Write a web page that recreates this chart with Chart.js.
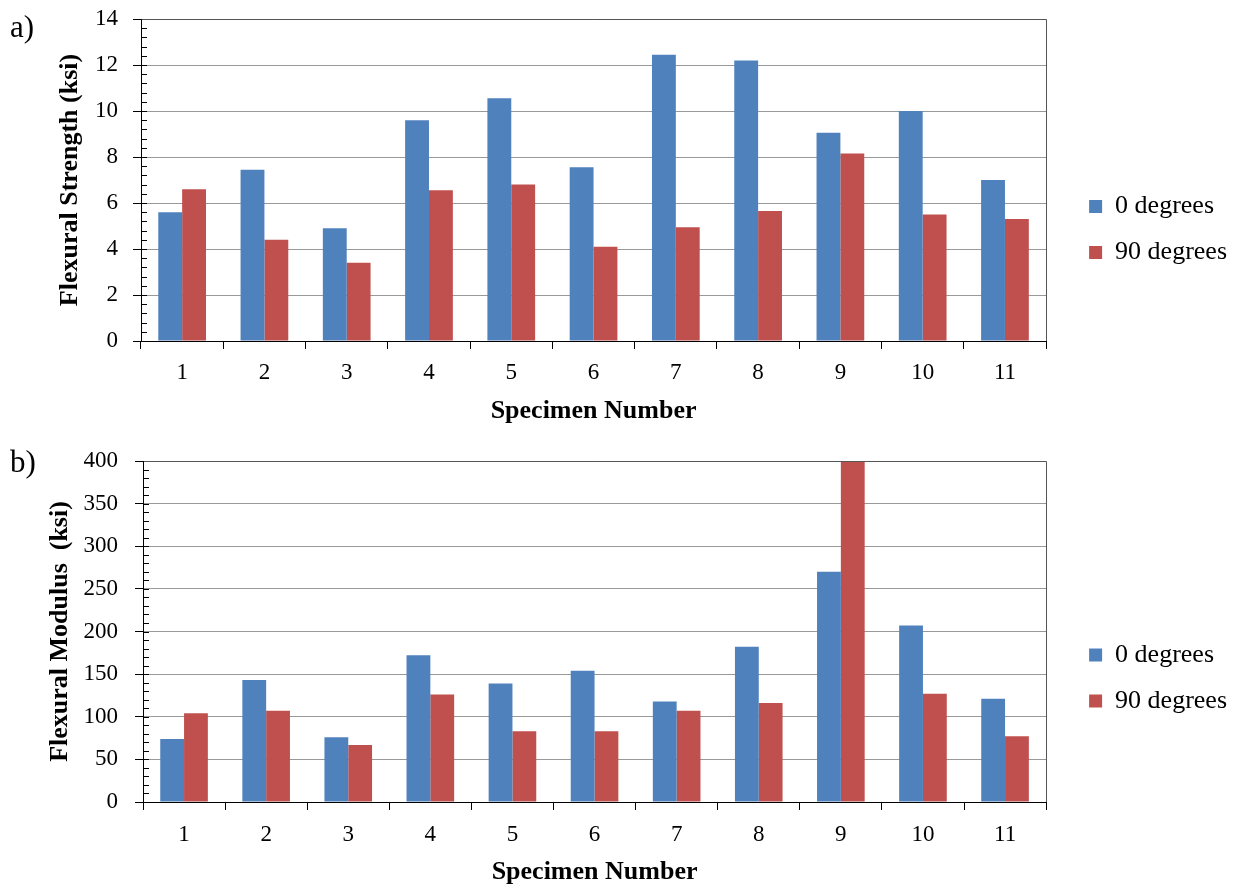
<!DOCTYPE html>
<html>
<head>
<meta charset="utf-8">
<script src="https://cdn.jsdelivr.net/npm/chart.js@4"></script>
<style>
  body { margin: 0; background: #fff; overflow: hidden; width: 1233px; height: 885px; position: relative; font-family: "Liberation Serif", serif; }
  .box { position: absolute; left: 0; width: 1233px; }
  .tag { position: absolute; left: 10px; font-size: 31px; line-height: 31px; color: #000; }
</style>
</head>
<body>
<div class="box" style="top:0;height:440px"><canvas id="grafico1"></canvas></div>
<div class="box" style="top:440px;height:455px"><canvas id="grafico2"></canvas></div>
<div class="tag" style="top:11px">a)</div>
<div class="tag" style="top:446px">b)</div>
<script>
const specimens = ['1', '2', '3', '4', '5', '6', '7', '8', '9', '10', '11'];
const seriesNames = ['0 degrees', '90 degrees'];

// a) flexural strength, ksi
const strength0 = [5.6, 7.45, 4.9, 9.6, 10.55, 7.55, 12.45, 12.2, 9.05, 10.0, 7.0];
const strength90 = [6.6, 4.4, 3.4, 6.55, 6.8, 4.1, 4.95, 5.65, 8.15, 5.5, 5.3];

// b) flexural modulus, ksi
const modulus0 = [74, 143, 76, 172, 139, 154, 118, 182, 270, 207, 121];
const modulus90 = [104, 107, 67, 126, 83, 83, 107, 116, 400, 127, 77];

const blue = '#4F81BD';
const red = '#C0504D';
const serif = '"Liberation Serif", "Times New Roman", serif';

// minor ticks + frame (top/right grey, left/bottom black)
const frame = {
  id: 'frame',
  afterDatasetsDraw(chart, args, opts) {
    const {ctx, chartArea: a, scales: {y}} = chart;
    ctx.save();
    ctx.lineWidth = 1;
    ctx.strokeStyle = '#000';
    ctx.beginPath();
    const n = Math.round((y.max - y.min) / opts.minor);
    for (let i = 1; i < n; i++) {
      const py = Math.round(y.getPixelForValue(y.min + i * opts.minor)) + 0.5;
      ctx.moveTo(a.left, py);
      ctx.lineTo(a.left + 6, py);
    }
    ctx.stroke();
    ctx.strokeStyle = '#555';
    ctx.beginPath();
    ctx.moveTo(a.left, a.top + 0.5);
    ctx.lineTo(Math.round(a.right) + 0.5, a.top + 0.5);
    ctx.lineTo(Math.round(a.right) + 0.5, a.bottom);
    ctx.stroke();
    ctx.strokeStyle = '#000';
    ctx.beginPath();
    ctx.moveTo(Math.round(a.left) + 0.5, a.top);
    ctx.lineTo(Math.round(a.left) + 0.5, Math.round(a.bottom) + 0.5);
    ctx.lineTo(a.right, Math.round(a.bottom) + 0.5);
    ctx.stroke();
    ctx.restore();
  }
};

// push the legend a bit away from the plot
const legendShift = {
  id: 'legendShift',
  afterLayout(chart, args, opts) {
    chart.legend.left += opts.dx;
    chart.legend.right += opts.dx;
  }
};

function barChart(canvas, data0, data90, yTitle, yMax, yStep, minor, s) {
  return new Chart(canvas, {
    type: 'bar',
    data: {
      labels: specimens,
      datasets: [
        { label: seriesNames[0], data: data0, backgroundColor: blue, borderWidth: 0 },
        { label: seriesNames[1], data: data90, backgroundColor: red, borderWidth: 0 }
      ]
    },
    options: {
      responsive: true,
      maintainAspectRatio: false,
      animation: false,
      categoryPercentage: 0.58,
      barPercentage: 1,
      layout: { padding: { left: s.padLeft, right: 19, top: s.padTop, bottom: 0 } },
      plugins: {
        legend: {
          position: 'right',
          labels: { font: { family: serif, size: 26 }, color: '#000', boxWidth: 13, boxHeight: 13, padding: 20 }
        },
        tooltip: { enabled: false },
        frame: { minor: minor },
        legendShift: { dx: 23 }
      },
      scales: {
        x: {
          grid: { drawOnChartArea: false, drawTicks: true, tickLength: 8, tickColor: '#000', offset: true },
          border: { color: '#000' },
          ticks: { font: { family: serif, size: 23 }, color: '#000', padding: s.xPad },
          title: {
            display: true, text: 'Specimen Number', color: '#000',
            font: { family: serif, size: 26, weight: 'bold', lineHeight: 1.2 },
            padding: { top: 0, bottom: s.xTitlePad }
          },
          afterFit(scale) { scale.height = s.xHeight; }
        },
        y: {
          min: 0,
          max: yMax,
          grid: { color: '#999', tickLength: 8, tickColor: '#000' },
          border: { color: '#000' },
          ticks: { stepSize: yStep, font: { family: serif, size: 23 }, color: '#000', padding: s.yPad },
          title: {
            display: true, text: yTitle, color: '#000',
            font: { family: serif, size: 26, weight: 'bold', lineHeight: 1.2 },
            padding: { top: 5, bottom: 0 }
          },
          afterFit(scale) {
            scale.width = s.yWidth;
            scale.paddingTop = 0;
            scale.paddingBottom = 0;
          }
        }
      }
    },
    plugins: [frame, legendShift]
  });
}

barChart(document.getElementById('grafico1'), strength0, strength90,
  'Flexural Strength (ksi)', 14, 2, 0.4,
  { padLeft: 50, padTop: 19, yWidth: 91, yPad: 15, xHeight: 99, xPad: 10, xTitlePad: 13 });

barChart(document.getElementById('grafico2'), modulus0, modulus90,
  'Flexural Modulus  (ksi)', 400, 50, 10,
  { padLeft: 40, padTop: 21, yWidth: 103, yPad: 17, xHeight: 93, xPad: 11, xTitlePad: 7 });
</script>
</body>
</html>
